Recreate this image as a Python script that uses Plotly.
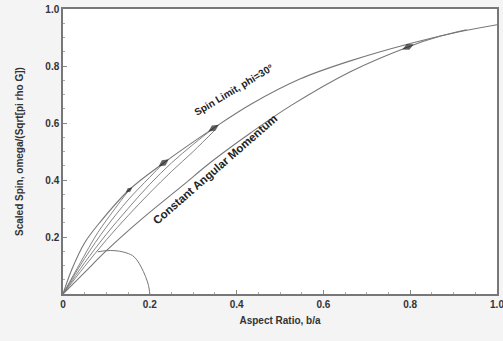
import plotly.graph_objects as go

# ---- data ----
spin_x = [0.0, 0.02, 0.05, 0.087, 0.152, 0.232, 0.347, 0.432, 0.547, 0.662, 0.8, 0.9, 1.0]
spin_y = [0.0, 0.085, 0.18, 0.255, 0.365, 0.46, 0.582, 0.665, 0.755, 0.818, 0.879, 0.916, 0.945]

camom_x = [0.0, 0.05, 0.1, 0.179, 0.271, 0.347, 0.432, 0.524, 0.662, 0.795, 0.87, 0.93]
camom_y = [0.0, 0.076, 0.152, 0.26, 0.375, 0.47, 0.565, 0.66, 0.78, 0.867, 0.905, 0.927]

fan1_x = [0.0, 0.04, 0.08, 0.12, 0.152]
fan1_y = [0.0, 0.11, 0.215, 0.30, 0.365]
fan2_x = [0.0, 0.05, 0.1, 0.15, 0.2, 0.232]
fan2_y = [0.0, 0.125, 0.235, 0.33, 0.41, 0.46]
fan3_x = [0.0, 0.05, 0.1, 0.15, 0.2, 0.25, 0.3, 0.347]
fan3_y = [0.0, 0.11, 0.21, 0.30, 0.385, 0.46, 0.525, 0.582]
fan4_x = [0.0, 0.05, 0.1, 0.15, 0.2, 0.25, 0.3, 0.35]
fan4_y = [0.0, 0.097, 0.19, 0.275, 0.355, 0.43, 0.50, 0.575]

arc_x = [0.08, 0.1, 0.12, 0.14, 0.16, 0.17, 0.18, 0.19, 0.197, 0.2]
arc_y = [0.148, 0.152, 0.152, 0.147, 0.135, 0.12, 0.095, 0.062, 0.03, 0.0]

arrow_x = [0.152, 0.232, 0.347, 0.795]
arrow_y = [0.365, 0.46, 0.582, 0.867]
arrow_angle = [52, 54, 57, 66]
arrow_size = [6, 9, 9, 9]

xticks = [0, 0.2, 0.4, 0.6, 0.8, 1.0]
xtick_text = ["0", "0.2", "0.4", "0.6", "0.8", "1.0"]
yticks = [0.2, 0.4, 0.6, 0.8, 1.0]
ytick_text = ["0.2", "0.4", "0.6", "0.8", "1.0"]

line_col = "#777777"
fig = go.Figure()

def add_line(x, y, w=1.0, col=line_col):
    fig.add_trace(go.Scatter(x=x, y=y, mode="lines", line=dict(color=col, width=w, shape="spline"),
                             hoverinfo="skip", showlegend=False, cliponaxis=False))

add_line(spin_x, spin_y, 1.1)
add_line(camom_x, camom_y, 1.1)
for fx, fy in [(fan1_x, fan1_y), (fan2_x, fan2_y), (fan3_x, fan3_y), (fan4_x, fan4_y)]:
    add_line(fx, fy, 0.9)
add_line(arc_x, arc_y, 1.0)

fig.add_trace(go.Scatter(x=arrow_x, y=arrow_y, mode="markers",
                         marker=dict(symbol="diamond-tall", size=arrow_size, angle=arrow_angle,
                                     color="#222222", line=dict(width=0)),
                         hoverinfo="skip", showlegend=False))

fam = "Liberation Sans, Arial, sans-serif"
font_main = dict(family=fam, size=10, color="#333333")

fig.add_annotation(x=0.395, y=0.716, text="<b>Spin Limit, phi=30°</b>", showarrow=False,
                   textangle=-31, font=dict(family=fam, size=10, color="#222222"))
fig.add_annotation(x=0.352, y=0.437, text="<b>Constant Angular Momentum</b>", showarrow=False,
                   textangle=-41, font=dict(family=fam, size=11.5, color="#222222"))

axis_common = dict(showgrid=False, zeroline=False, showline=True, linecolor="#777777", linewidth=1.5,
                   mirror=True, ticks="inside", ticklen=4, tickcolor="#888888", automargin=False,
                   ticklabeloverflow="allow",
                   tickfont=dict(family=fam, size=10, color="#333333"))

fig.update_xaxes(range=[0, 1.0], tickvals=xticks, ticktext=["<b>%s</b>" % t for t in xtick_text],
                 title=dict(text="<b>Aspect Ratio, b/a</b>", font=font_main, standoff=8),
                 minor=dict(ticks="inside", dtick=0.05, ticklen=2, tickcolor="#aaaaaa"),
                 **axis_common)
fig.update_yaxes(range=[0, 1.0], tickvals=yticks, ticktext=["<b>%s</b>" % t for t in ytick_text],
                 title=dict(text="<b>Scaled Spin, omega/(Sqrt[pi rho G])</b>", font=font_main, standoff=20),
                 minor=dict(ticks="inside", dtick=0.05, ticklen=2, tickcolor="#aaaaaa"),
                 **axis_common)

fig.update_layout(width=503, height=341, margin=dict(l=63, r=6, t=9, b=47, autoexpand=False),
                  paper_bgcolor="#f4f4f4", plot_bgcolor="#ffffff")

fig.write_html("out.html", config={"displayModeBar": False},
               post_script="document.body.style.margin='0px';")
